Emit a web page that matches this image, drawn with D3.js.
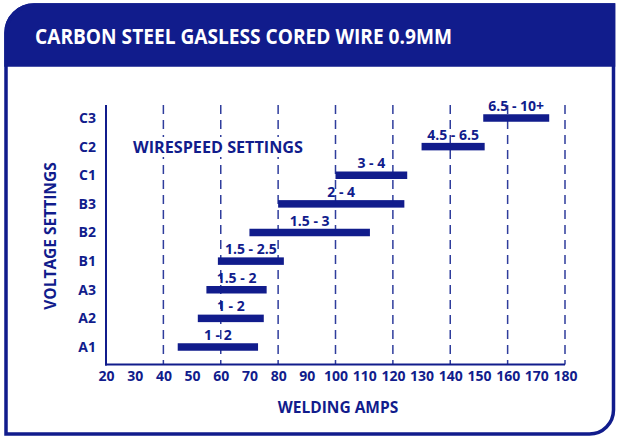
<!DOCTYPE html>
<html>
<head>
<meta charset="utf-8">
<script src="https://cdn.jsdelivr.net/npm/d3@7"></script>
<style>
  html, body { margin: 0; padding: 0; background: #fff; }
  svg { display: block; font-family: "Open Sans", "DejaVu Sans", sans-serif; }
</style>
</head>
<body>
<div id="chart"></div>
<script>
// Voltage settings, bottom to top
var categories = ['A1', 'A2', 'A3', 'B1', 'B2', 'B3', 'C1', 'C2', 'C3'];
// Welding amps range per setting
var ampsMin = [45, 52, 55, 59, 70, 80, 100, 130, 151.5];
var ampsMax = [73, 75, 76, 82, 112, 124, 125, 152, 174.5];
// Wirespeed labels shown above each bar
var wireSpeed = ['1 - 2', '1 - 2', '1.5 - 2', '1.5 - 2.5', '1.5 - 3', '2 - 4', '3 - 4', '4.5 - 6.5', '6.5 - 10+'];
var xTicks = [20, 30, 40, 50, 60, 70, 80, 90, 100, 110, 120, 130, 140, 150, 160, 170, 180];
var gridValues = [40, 60, 80, 100, 120, 140, 160, 180];

var navy = '#111c8c';
var width = 617, height = 437;

var svg = d3.select('#chart').append('svg')
    .attr('width', width)
    .attr('height', height);

// Frame: rounded top-left and bottom-right corners
svg.append('path')
    .attr('d', 'M6,33 A28,28 0 0 1 34,5 L613.5,5 L613.5,410 A24,24 0 0 1 589.5,434 L6,434 Z')
    .attr('fill', '#fff')
    .attr('stroke', navy)
    .attr('stroke-width', 3.5);

svg.append('path')
    .attr('d', 'M6,33 A28,28 0 0 1 34,5 L613.5,5 L613.5,65 L6,65 Z')
    .attr('fill', navy)
    .attr('stroke', navy)
    .attr('stroke-width', 3.5);

svg.append('text')
    .attr('x', 35)
    .attr('y', 43.5)
    .attr('fill', '#fff')
    .attr('font-size', 22)
    .attr('font-weight', 700)
    .attr('textLength', 417)
    .attr('lengthAdjust', 'spacingAndGlyphs')
    .text('CARBON STEEL GASLESS CORED WIRE 0.9MM');

var x = d3.scaleLinear().domain([20, 180]).range([106, 565]);
var y = d3.scalePoint().domain(categories).range([347, 118]);
var plotTop = 105, plotBottom = 364.5;
var barH = 7.5;

// Dashed gridlines
svg.append('g')
    .selectAll('line')
    .data(gridValues)
    .join('line')
    .attr('x1', function (d) { return x(d); })
    .attr('x2', function (d) { return x(d); })
    .attr('y1', plotTop)
    .attr('y2', plotBottom)
    .attr('stroke', '#2f3d9c')
    .attr('stroke-width', 1.5)
    .attr('stroke-dasharray', '9,6');

// Wirespeed legend text with white background
svg.append('rect')
    .attr('x', 128).attr('y', 137)
    .attr('width', 182).attr('height', 20)
    .attr('fill', '#fff');
svg.append('text')
    .attr('x', 133)
    .attr('y', 153)
    .attr('fill', navy)
    .attr('font-size', 16)
    .attr('font-weight', 700)
    .attr('textLength', 170)
    .attr('lengthAdjust', 'spacingAndGlyphs')
    .text('WIRESPEED SETTINGS');

// Axis lines
svg.append('line')
    .attr('x1', x(20)).attr('x2', x(20))
    .attr('y1', plotTop).attr('y2', plotBottom + 1)
    .attr('stroke', navy).attr('stroke-width', 2);
svg.append('line')
    .attr('x1', x(20) - 1).attr('x2', x(180))
    .attr('y1', plotBottom).attr('y2', plotBottom)
    .attr('stroke', navy).attr('stroke-width', 2);

// Bars
var bars = svg.append('g');
bars.selectAll('rect')
    .data(categories)
    .join('rect')
    .attr('x', function (d, i) { return x(ampsMin[i]); })
    .attr('width', function (d, i) { return x(ampsMax[i]) - x(ampsMin[i]); })
    .attr('y', function (d) { return y(d) - barH / 2; })
    .attr('height', barH)
    .attr('fill', navy);

bars.selectAll('text')
    .data(categories)
    .join('text')
    .attr('x', function (d, i) { return (x(ampsMin[i]) + x(ampsMax[i])) / 2; })
    .attr('y', function (d) { return y(d) - 7; })
    .attr('text-anchor', 'middle')
    .attr('fill', navy)
    .attr('font-size', 14)
    .attr('font-weight', 700)
    .text(function (d, i) { return wireSpeed[i]; });

// Axes (labels only)
var xAxis = svg.append('g')
    .attr('transform', 'translate(0,' + plotBottom + ')')
    .call(d3.axisBottom(x).tickValues(xTicks).tickSize(0).tickPadding(7));
var yAxis = svg.append('g')
    .attr('transform', 'translate(' + x(20) + ',0)')
    .call(d3.axisLeft(y).tickSize(0).tickPadding(10));

[xAxis, yAxis].forEach(function (ax) {
    ax.select('.domain').remove();
    ax.selectAll('text')
        .attr('fill', navy)
        .attr('font-size', 14)
        .attr('font-weight', 700)
        .style('font-family', '"Open Sans", "DejaVu Sans", sans-serif');
});

// Axis titles
svg.append('text')
    .attr('x', 338)
    .attr('y', 413)
    .attr('text-anchor', 'middle')
    .attr('fill', navy)
    .attr('font-size', 15.5)
    .attr('font-weight', 700)
    .text('WELDING AMPS');

svg.append('text')
    .attr('transform', 'translate(56,236) rotate(-90)')
    .attr('text-anchor', 'middle')
    .attr('fill', navy)
    .attr('font-size', 15.5)
    .attr('font-weight', 700)
    .text('VOLTAGE SETTINGS');
</script>
</body>
</html>
